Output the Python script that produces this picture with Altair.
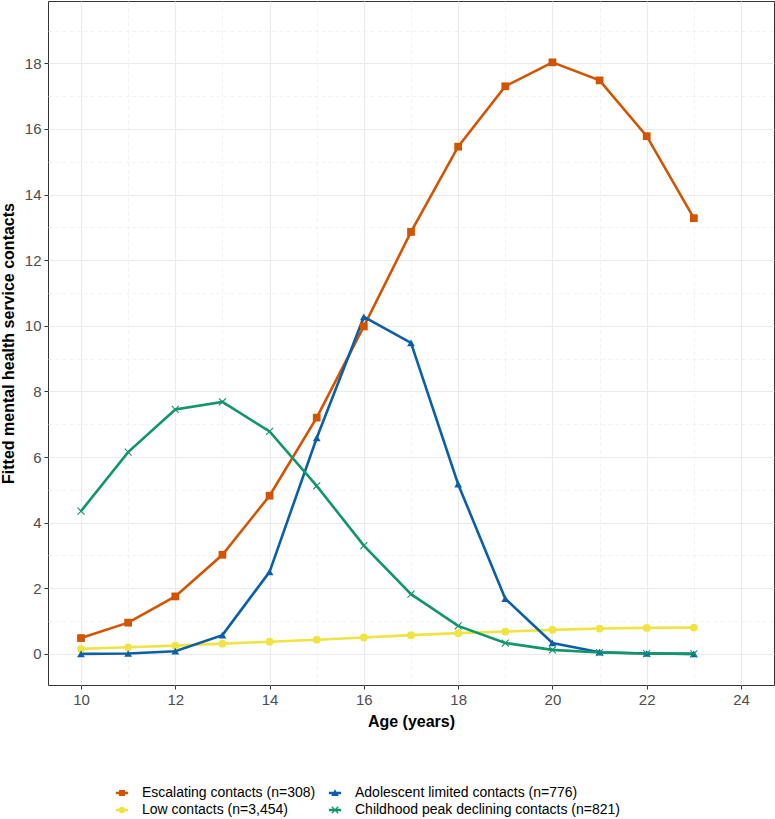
import altair as alt
import pandas as pd

# Age in years at which each trajectory is evaluated
ages = list(range(10, 24))

# Fitted mental health service contacts per trajectory group
escalating = [0.48, 0.95, 1.75, 3.02, 4.82, 7.20, 9.98, 12.86, 15.46, 17.30, 18.03, 17.48, 15.78, 13.28]
low = [0.15, 0.20, 0.25, 0.31, 0.37, 0.43, 0.50, 0.57, 0.63, 0.68, 0.73, 0.77, 0.79, 0.80]
adolescent = [0.00, 0.01, 0.08, 0.57, 2.50, 6.58, 10.27, 9.48, 5.17, 1.68, 0.33, 0.05, 0.01, 0.00]
childhood = [4.35, 6.15, 7.45, 7.68, 6.78, 5.12, 3.30, 1.82, 0.85, 0.33, 0.12, 0.04, 0.01, 0.00]

# drawing order (later series on top); the legend fills column by column in this order
series_names = [
    "Escalating contacts (n=308)",
    "Low contacts (n=3,454)",
    "Adolescent limited contacts (n=776)",
    "Childhood peak declining contacts (n=821)",
]
series_values = [escalating, low, adolescent, childhood]
colors = ["#D35400", "#F0E442", "#0B5FA8", "#11956A"]

x_ticks = list(range(10, 25))
y_ticks = list(range(0, 20))

rows = []
for name, vals in zip(series_names, series_values):
    for a, v in zip(ages, vals):
        rows.append({"series": name, "age": a, "contacts": v})
df = pd.DataFrame(rows)

# marker paths in symbol units ([-1, 1] box)
X_PATH = "M-1,-0.8L-0.8,-1L0,-0.2L0.8,-1L1,-0.8L0.2,0L1,0.8L0.8,1L0,0.2L-0.8,1L-1,0.8L-0.2,0Z"
plot_shapes = ["square", "circle", "triangle-up", X_PATH]

# legend keys: a short line segment with the marker on top
SEG = "M-1,-0.2H1V0.2H-1Z"
legend_shapes = [
    SEG + "M-0.5,-0.5H0.5V0.5H-0.5Z",
    SEG + "M-0.55,0A0.55,0.55,0,1,1,0.55,0A0.55,0.55,0,1,1,-0.55,0Z",
    SEG + "M0,-0.62L0.62,0.48H-0.62Z",
    SEG + "M-0.6,-0.45L-0.45,-0.6L0,-0.15L0.45,-0.6L0.6,-0.45L0.15,0L0.6,0.45L0.45,0.6L0,0.15L-0.45,0.6L-0.6,0.45L-0.15,0Z",
]

color_scale = alt.Scale(domain=series_names, range=colors)

odd_test = "datum.value % 2 !== 0"

x_enc = alt.X(
    "age:Q",
    scale=alt.Scale(domain=[9.3, 24.7], nice=False, zero=False),
    axis=alt.Axis(
        title="Age (years)",
        values=x_ticks,
        labelExpr="datum.value % 2 === 0 ? datum.label : ''",
        tickSize={"condition": {"test": odd_test, "value": 0}, "value": 4},
        gridDash={"condition": {"test": odd_test, "value": [4, 3]}, "value": []},
        gridColor={"condition": {"test": odd_test, "value": "#EFEFEF"}, "value": "#EBEBEB"},
        gridWidth={"condition": {"test": odd_test, "value": 0.8}, "value": 1.2},
        titlePadding=6,
    ),
)
y_enc = alt.Y(
    "contacts:Q",
    scale=alt.Scale(domain=[-0.95, 19.9], nice=False, zero=False),
    axis=alt.Axis(
        title="Fitted mental health service contacts",
        values=y_ticks,
        labelExpr="datum.value % 2 === 0 ? datum.label : ''",
        tickSize={"condition": {"test": odd_test, "value": 0}, "value": 4},
        gridDash={"condition": {"test": odd_test, "value": [4, 3]}, "value": []},
        gridColor={"condition": {"test": odd_test, "value": "#EFEFEF"}, "value": "#EBEBEB"},
        gridWidth={"condition": {"test": odd_test, "value": 0.8}, "value": 1.2},
        titlePadding=8,
    ),
)

base = alt.Chart(df)

lines = base.mark_line(strokeWidth=2.6).encode(
    x=x_enc,
    y=y_enc,
    color=alt.Color("series:N", scale=color_scale, legend=None),
    detail="series:N",
)

points = base.mark_point(filled=True, size=60, opacity=1).encode(
    x=x_enc,
    y=y_enc,
    color=alt.Color("series:N", scale=color_scale, legend=None),
    shape=alt.Shape(
        "series:N",
        scale=alt.Scale(domain=series_names, range=plot_shapes),
        legend=None,
    ),
)

# layer with no rows of its own: it only supplies the line + marker legend
legend_layer = (
    base.transform_filter("datum.age > 100")
    .mark_point(filled=True, size=150, opacity=1)
    .encode(
        x=x_enc,
        y=y_enc,
        color=alt.Color(
            "series:N",
            scale=color_scale,
            legend=alt.Legend(
                title=None,
                orient="none",
                legendX=67,
                legendY=785,
                columns=2,
                columnPadding=12,
                rowPadding=3,
                padding=0,
                symbolSize=150,
                symbolOpacity=1,
                symbolStrokeWidth=0,
                labelOffset=13,
                labelFontSize=14,
                labelColor="#000000",
                labelFont="Liberation Sans",
                labelLimit=400,
            ),
        ),
        shape=alt.Shape(
            "series:N",
            scale=alt.Scale(domain=series_names, range=legend_shapes),
            legend=alt.Legend(title=None),
        ),
    )
)

chart = (
    alt.layer(lines, points, legend_layer)
    .resolve_scale(color="independent", shape="independent")
    .properties(
        width=726,
        height=684,
        autosize=alt.AutoSizeParams(type="none"),
        padding={"left": 48, "top": 1, "right": 1, "bottom": 134},
        background="#FFFFFF",
    )
    .configure_view(stroke="#333333", strokeWidth=1)
    .configure_axis(
        domain=False,
        labelFont="Liberation Sans",
        labelFontSize=15,
        labelColor="#4D4D4D",
        tickColor="#333333",
        tickWidth=1,
        labelPadding=3,
        titleFont="Liberation Sans",
        titleFontSize=16,
        titleFontWeight="bold",
        titleColor="#000000",
    )
)

chart.save("out.html", embed_options={"renderer": "svg", "actions": False})
